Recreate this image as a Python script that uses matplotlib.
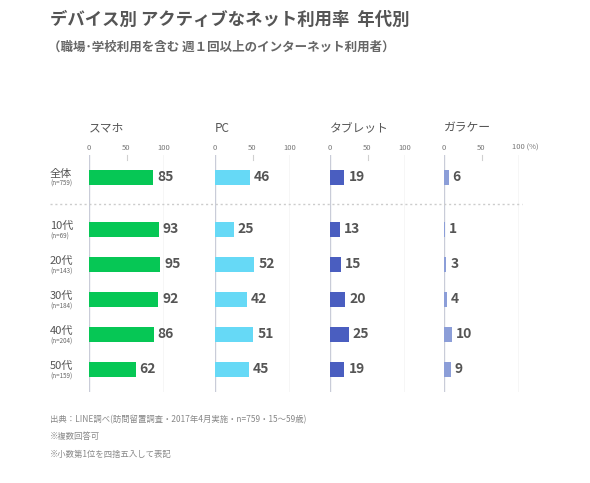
import matplotlib
matplotlib.use("Agg")
import matplotlib.pyplot as plt

plt.rcParams['font.family'] = ['Noto Sans CJK JP', 'DejaVu Sans']

devices = ["スマホ", "PC", "タブレット", "ガラケー"]
groups = ["全体", "10代", "20代", "30代", "40代", "50代"]
sample_sizes = ["(n=759)", "(n=69)", "(n=143)", "(n=184)", "(n=204)", "(n=159)"]
smartphone = [85, 93, 95, 92, 86, 62]
pc = [46, 25, 52, 42, 51, 45]
tablet = [19, 13, 15, 20, 25, 19]
feature_phone = [6, 1, 3, 4, 10, 9]
tick_values = [0, 50, 100]
title = "デバイス別 アクティブなネット利用率  年代別"
subtitle = "（職場･学校利用を含む 週１回以上のインターネット利用者）"
footnotes = ["出典：LINE調べ(訪問留置調査・2017年4月実施・n=759・15〜59歳)",
             "※複数回答可",
             "※小数第1位を四捨五入して表記"]

series = [smartphone, pc, tablet, feature_phone]
colors = ["#06C755", "#66D9F6", "#4A5EC0", "#8C9ED8"]

W, H = 590, 483
fig = plt.figure(figsize=(W / 100, H / 100), dpi=100)
fig.patch.set_facecolor("white")

# layout (pixels)
zero_px = [89, 215, 330, 444]
span_px = 75
top_px, bot_px = 155, 392
ylo, yhi = -0.63, 6.14
# row positions: overall at 0, age groups after a gap
ypos = [0] + [1.49 + i for i in range(len(groups) - 1)]

def fx(px):
    return px / W

def fy(py):
    return 1 - py / H

label_color = "#555555"
axes = []
for k, (vals, col, name) in enumerate(zip(series, colors, devices)):
    x0 = zero_px[k]
    ax = fig.add_axes([fx(x0), fy(bot_px), span_px / W, (bot_px - top_px) / H])
    ax.set_xlim(0, 100)
    ax.set_ylim(yhi, ylo)
    ax.axis("off")
    ax.axvline(0, color="#C9CCD8", lw=1.0, zorder=1)
    ax.axvline(100, color="#D6D6D6", lw=1.0, zorder=1)
    ax.plot([50, 50], [ylo, ylo + 0.15], color="#D0D0D0", lw=0.8, clip_on=False)
    ax.barh(ypos, vals, height=0.43, color=col, zorder=2)
    for y, v in zip(ypos, vals):
        ax.text(v + 5.5, y, str(v), ha="left", va="center", fontsize=10,
                fontweight="bold", color=label_color, clip_on=False)
    for t in tick_values:
        if k == 3 and t == 100:
            ax.text(90, ylo - 0.2, "100 (%)", ha="left", va="center",
                    fontsize=5.5, color="#777777", clip_on=False)
        else:
            ax.text(t, ylo - 0.2, str(t), ha="center", va="center",
                    fontsize=5.5, color="#777777", clip_on=False)
    fig.text(fx(x0), fy(128), name, ha="left", va="center", fontsize=8.5,
             color="#555555")
    axes.append(ax)

# dashed separator
fig.add_artist(plt.Line2D([fx(50), fx(522)], [fy(204), fy(204)],
                          color="#CCCCCC", lw=1.0, linestyle=(0, (1.5, 2))))

# row labels
for y, g, n in zip(ypos, groups, sample_sizes):
    py = 177 + y * 35
    fig.text(fx(50), fy(py - 3), g, ha="left", va="center", fontsize=8,
             color="#555555")
    fig.text(fx(50), fy(py + 7), n, ha="left", va="center", fontsize=4.5,
             color="#666666")

fig.text(fx(50), fy(20), title, ha="left", va="center", fontsize=12.5,
         fontweight="bold", color="#555555")
fig.text(fx(48), fy(47), subtitle, ha="left", va="center", fontsize=9,
         fontweight="bold", color="#666666")

for i, line in enumerate(footnotes):
    fig.text(fx(50), fy(420 + i * 17), line, ha="left", va="center",
             fontsize=6, color="#888888")

fig.savefig("out.png", dpi=100, facecolor="white")
